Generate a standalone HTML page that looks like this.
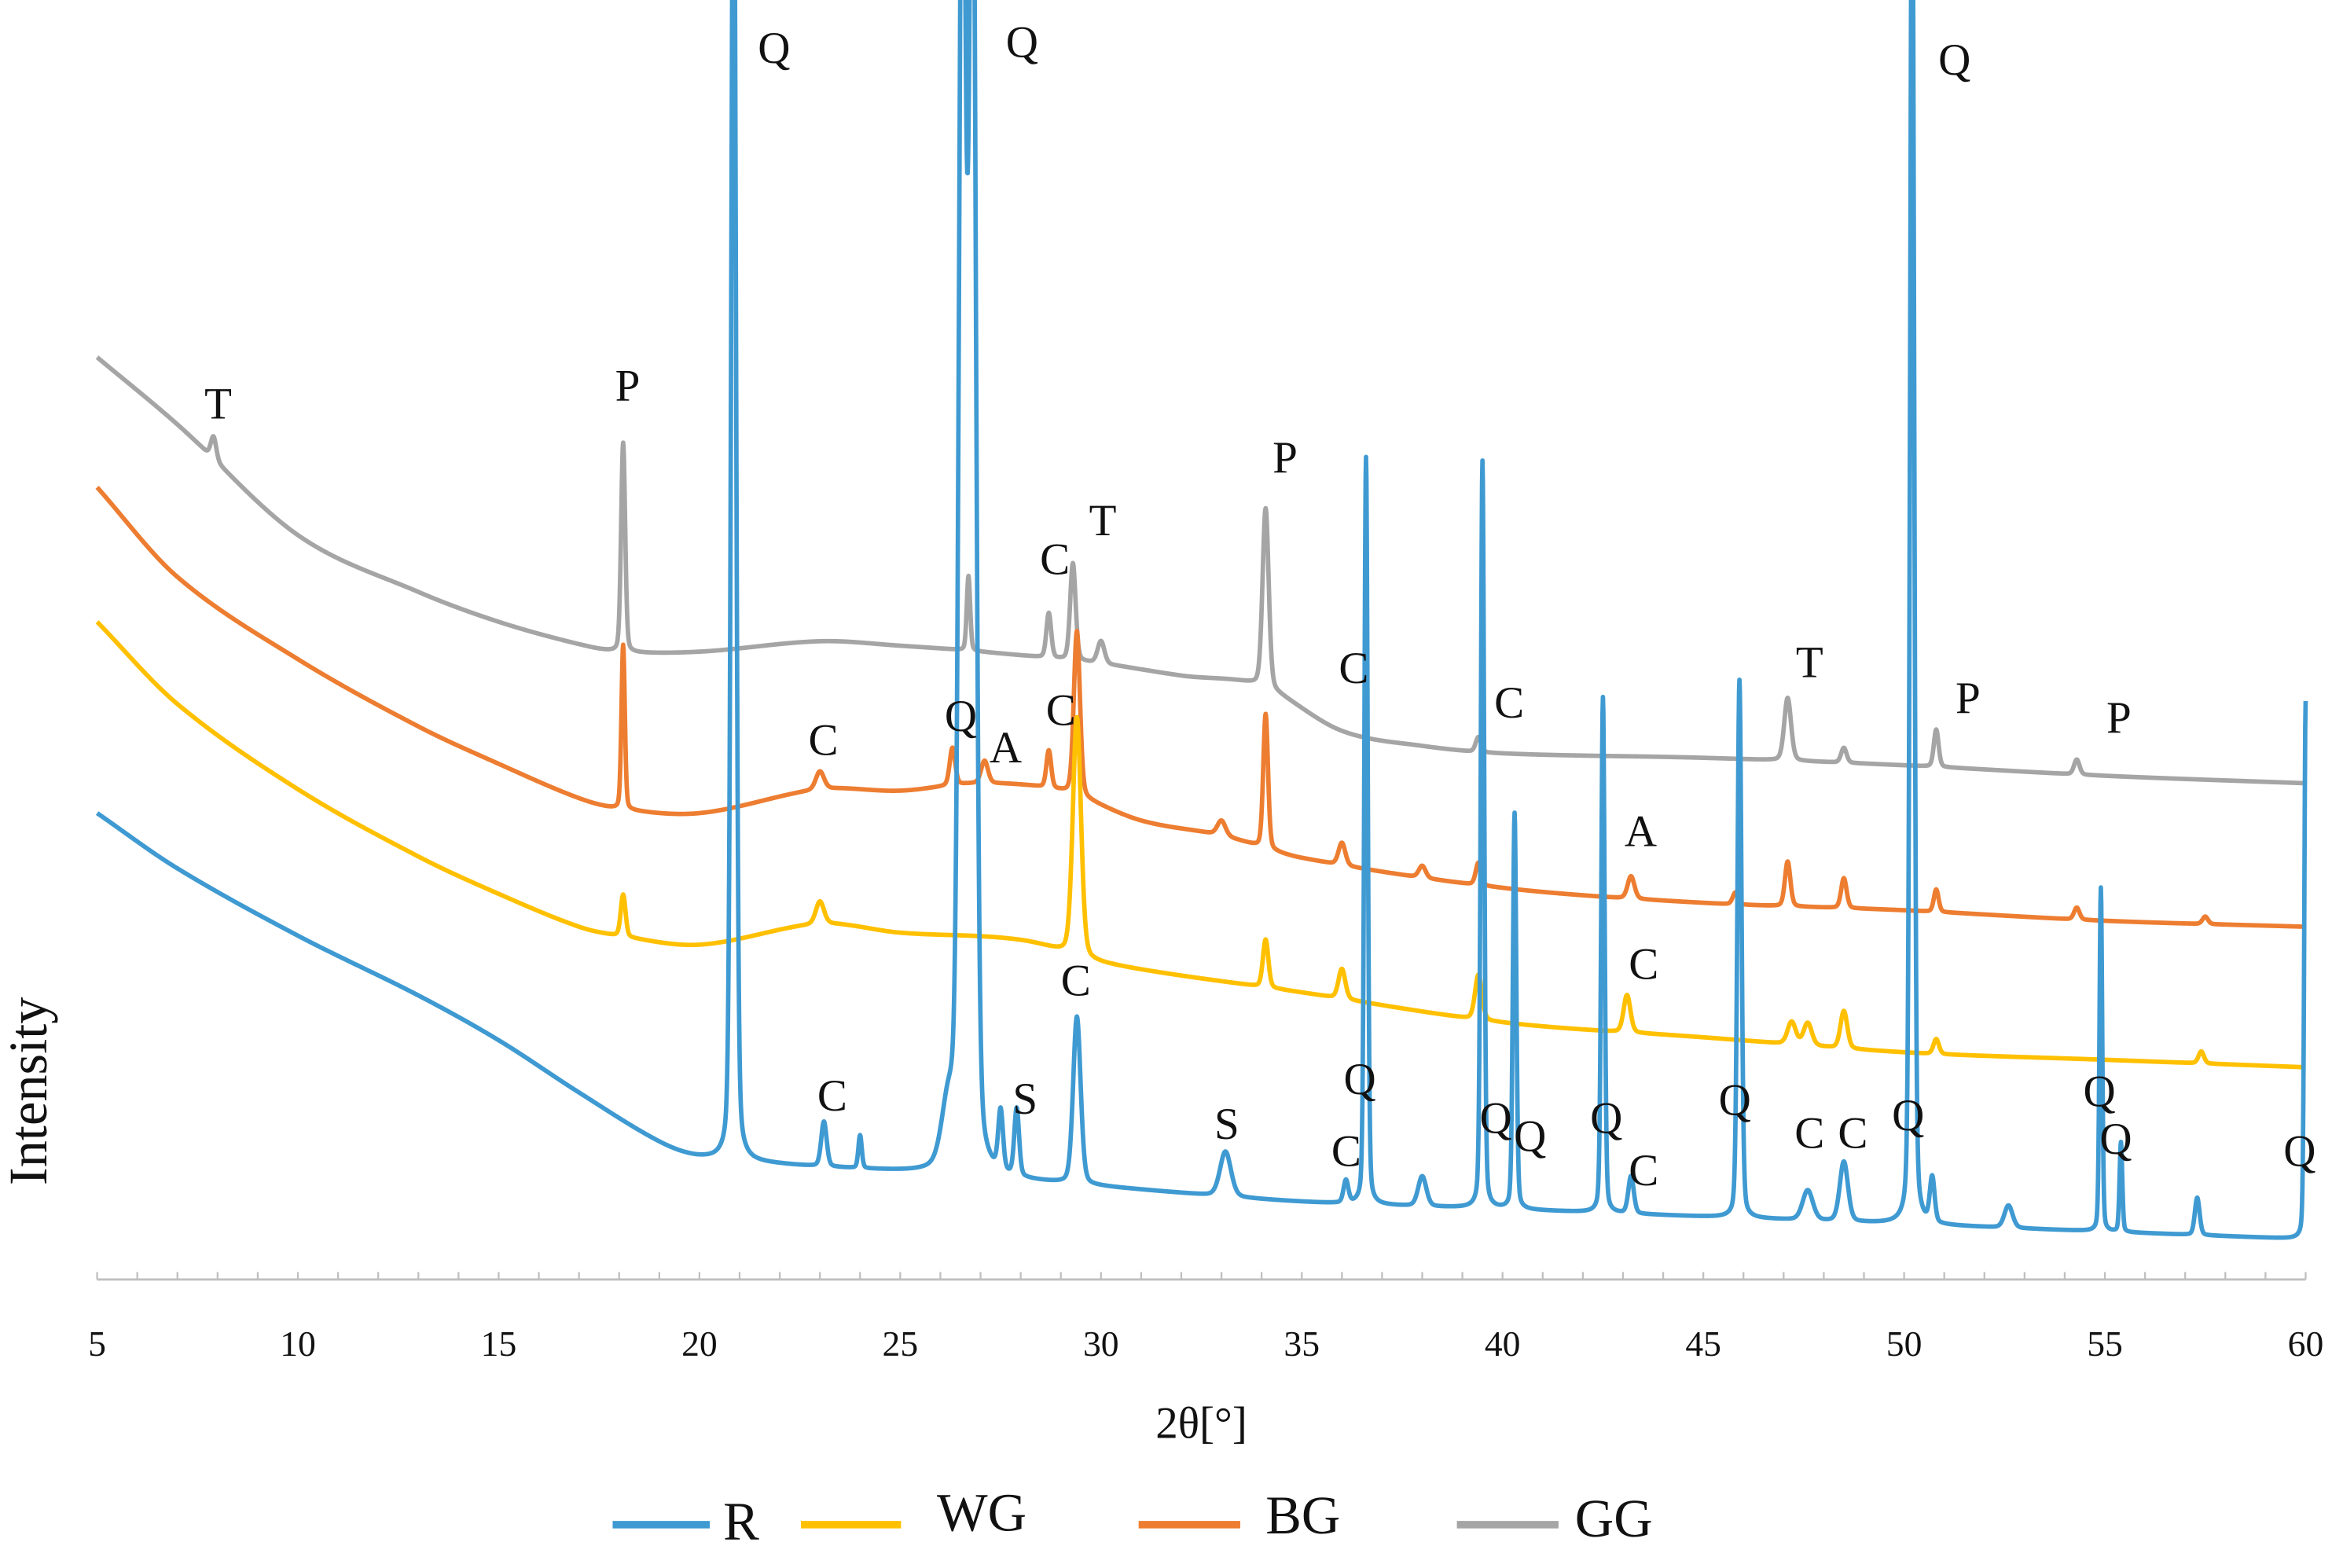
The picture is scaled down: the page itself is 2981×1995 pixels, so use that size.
<!DOCTYPE html>
<html><head><meta charset="utf-8"><style>
html,body{margin:0;padding:0;background:#fff;}
svg{display:block;}
text{font-family:"Liberation Serif",serif;fill:#111;}
</style></head><body>
<svg id="chart" width="2981" height="1995" viewBox="0 0 1568 1049" preserveAspectRatio="none" xmlns="http://www.w3.org/2000/svg">
<defs><clipPath id="plotclip"><rect x="60" y="0" width="1500" height="856"/></clipPath></defs>
<g id="axis"></g>
<g id="series" clip-path="url(#plotclip)"></g>
<g id="labels"></g>
<text x="31" y="730" font-size="36" transform="rotate(-90 31 730)" text-anchor="middle">Intensity</text>
<text x="804" y="962" font-size="30" text-anchor="middle">2θ[°]</text>
<g>
<line x1="410" y1="1020" x2="475" y2="1020" stroke="#3f9ad2" stroke-width="5"/>
<text x="484" y="1030" font-size="36">R</text>
<line x1="536" y1="1020" x2="603" y2="1020" stroke="#ffc000" stroke-width="5"/>
<text x="627" y="1024" font-size="36">WG</text>
<line x1="762" y1="1020" x2="830" y2="1020" stroke="#ed7d31" stroke-width="5"/>
<text x="847" y="1026" font-size="36">BG</text>
<line x1="975" y1="1020" x2="1043" y2="1020" stroke="#a5a5a5" stroke-width="5"/>
<text x="1054" y="1028" font-size="36">GG</text>
</g>
</svg>
<script>
const xTicks=[5,10,15,20,25,30,35,40,45,50,55,60];
// baselines: [2θ, intensity]
const baseR=[[5,312],[7,275],[10,230],[13,190],[15,160],[17,125],[19,92],[20,82],[22,77],[25,72],[30,62],[35,52],[40,47],[45,42],[50,37],[55,32],[60,27]];
const baseWG=[[5,440],[7,385],[10,328],[13,283],[15,258],[17,236],[18,230],[20,224],[23,238],[25,232],[28,227],[30,212],[35,192],[40,172],[45,162],[50,152],[55,147],[60,142]];
const baseBG=[[5,530],[7,470],[10,415],[13,370],[15,345],[17,322],[18,315],[20,312],[23,328],[25,327],[27,332],[29,327],[31,307],[33,297],[35,282],[40,262],[45,252],[50,247],[55,240],[60,236]];
const baseGG=[[5,617],[7,572],[10,498],[13,460],[15,440],[17,425],[18,420],[20,420],[23,427],[25,424],[27,420],[30,412],[32,404],[34,397],[36,367],[38,357],[40,352],[45,349],[50,344],[55,337],[60,332]];
// peaks: [position, height, width]
const peaksR=[[20.85,950,0.07],[23.1,30,0.08],[24.0,22,0.05],[26.55,950,0.1],[26.8,950,0.1],[26.2,40,0.2],[27.5,40,0.07],[27.9,45,0.07],[29.4,112,0.11],[33.1,30,0.16],[36.1,15,0.07],[36.6,500,0.05],[38,20,0.12],[39.5,500,0.05],[40.3,265,0.05],[42.5,345,0.05],[43.2,25,0.08],[45.9,360,0.06],[47.6,20,0.15],[48.5,40,0.12],[50.2,950,0.06],[50.7,30,0.07],[52.6,15,0.12],[54.9,230,0.04],[55.4,60,0.04],[57.3,25,0.07],[60.0,360,0.04]];
const peaksWG=[[18.1,28,0.07],[23.0,15,0.12],[29.4,160,0.12],[34.1,32,0.08],[36.0,20,0.1],[39.4,30,0.1],[43.1,25,0.1],[47.2,15,0.12],[47.6,15,0.12],[48.5,25,0.1],[50.8,10,0.08],[57.4,8,0.08]];
const peaksBG=[[18.1,110,0.05],[23.0,12,0.12],[26.3,25,0.08],[27.1,15,0.1],[28.7,25,0.07],[29.4,110,0.09],[33.0,10,0.12],[34.1,90,0.07],[36.0,15,0.1],[38.0,8,0.1],[39.4,15,0.08],[43.2,15,0.1],[45.8,8,0.08],[47.1,30,0.08],[48.5,20,0.08],[50.8,15,0.07],[54.3,8,0.08],[57.5,5,0.08]];
const peaksGG=[[7.9,15,0.08],[18.1,140,0.06],[26.7,50,0.05],[28.7,30,0.07],[29.3,65,0.08],[30.0,15,0.1],[34.1,120,0.09],[39.4,10,0.08],[47.1,42,0.1],[48.5,10,0.08],[50.8,25,0.07],[54.3,10,0.08]];
const seriesNames=["GG","BG","WG","R"];
const seriesColors=["#a5a5a5","#ed7d31","#ffc000","#3f9ad2"];
const annotations=[["Q",518,42],["Q",684,38],["Q",1308,50],["T",146,280],["P",420,268],["P",860,316],["C",706,384],["T",738,358],["C",906,457],["C",1010,480],["T",1211,453],["P",1317,477],["P",1418,490],["C",551,505],["Q",643,489],["A",673,510],["C",710,485],["A",1098,566],["C",1100,655],["C",720,666],["C",557,743],["S",686,745],["S",821,762],["Q",910,732],["C",901,780],["Q",1001,758],["Q",1024,770],["Q",1075,758],["C",1100,793],["Q",1161,746],["C",1211,768],["C",1240,768],["Q",1277,756],["Q",1405,740],["Q",1416,772],["Q",1539,780]];

const X0=65,X1=1543,Y0=856;
const xs=v=>X0+(v-5)*(X1-X0)/55;
const ys=v=>Y0-v;
const NS="http://www.w3.org/2000/svg";
function base(arr,x){const n=arr.length;for(let i=0;i<n-1;i++){if(x>=arr[i][0]&&x<=arr[i+1][0]){
 const p0=arr[Math.max(0,i-1)],p1=arr[i],p2=arr[i+1],p3=arr[Math.min(n-1,i+2)];
 const h=p2[0]-p1[0],t=(x-p1[0])/h;
 const m1=(p2[1]-p0[1])/(p2[0]-p0[0]||1)*h, m2=(p3[1]-p1[1])/(p3[0]-p1[0]||1)*h;
 const t2=t*t,t3=t2*t;
 return (2*t3-3*t2+1)*p1[1]+(t3-2*t2+t)*m1+(-2*t3+3*t2)*p2[1]+(t3-t2)*m2;}}return arr[n-1][1];}
function val(b,p,x){let v=base(b,x);for(const k of p){const d=(x-k[0])/k[2];v+=k[1]*(0.75*Math.exp(-0.693*d*d)+0.25/(1+d*d));}return v;}
const axis=document.getElementById('axis');
const al=document.createElementNS(NS,'line');
al.setAttribute('x1',X0);al.setAttribute('x2',X1);al.setAttribute('y1',Y0);al.setAttribute('y2',Y0);
al.setAttribute('stroke','#bfbfbf');al.setAttribute('stroke-width','1.5');


axis.appendChild(al);
for(let v=5;v<=60;v++){const t=document.createElementNS(NS,'line');t.setAttribute('x1',xs(v));t.setAttribute('x2',xs(v));t.setAttribute('y1',Y0);t.setAttribute('y2',Y0-5);t.setAttribute('stroke','#bfbfbf');t.setAttribute('stroke-width','1.2');


axis.appendChild(t);}
for(const v of xTicks){const t=document.createElementNS(NS,'text');t.setAttribute('x',xs(v));t.setAttribute('y',907);t.setAttribute('font-size','24');t.setAttribute('text-anchor','middle');t.textContent=v;


axis.appendChild(t);}
const sets=[[baseGG,peaksGG],[baseBG,peaksBG],[baseWG,peaksWG],[baseR,peaksR]];
const sg=document.getElementById('series');
sets.forEach((s,i)=>{let d='';for(let x=5;x<=60.0001;x+=0.01){d+=(d?'L':'M')+xs(x).toFixed(2)+','+ys(val(s[0],s[1],x)).toFixed(2);}
const p=document.createElementNS(NS,'path');p.setAttribute('d',d);p.setAttribute('fill','none');p.setAttribute('stroke',seriesColors[i]);p.setAttribute('stroke-width','3');p.setAttribute('stroke-linejoin','round');


sg.appendChild(p);});
const lg=document.getElementById('labels');
for(const a of annotations){const t=document.createElementNS(NS,'text');t.setAttribute('x',a[1]);t.setAttribute('y',a[2]);t.setAttribute('font-size','30');t.setAttribute('text-anchor','middle');t.textContent=a[0];


lg.appendChild(t);}
</script>
</body></html>
